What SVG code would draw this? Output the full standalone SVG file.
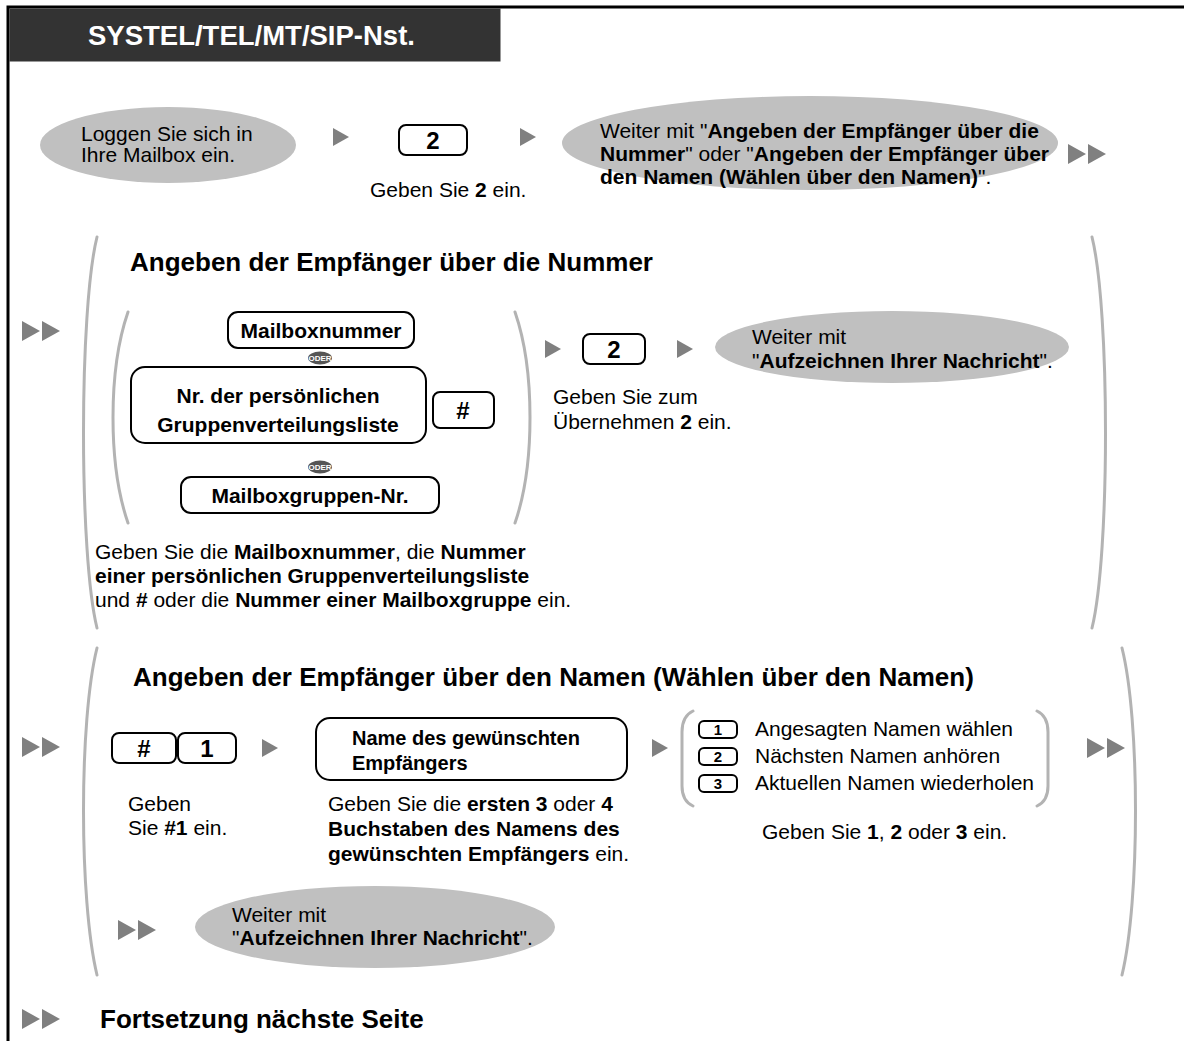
<svg xmlns="http://www.w3.org/2000/svg" width="1184" height="1041" viewBox="0 0 1184 1041">
<defs>
<style>
text{font-family:"Liberation Sans",Arial,sans-serif;fill:#000}
.b{font-weight:bold}
.t{font-size:21px}
.title{font-size:26px;font-weight:bold}
.ell{fill:#c0c0c0}
.key{fill:#fff;stroke:#000;stroke-width:2}
.box{fill:#fff;stroke:#000;stroke-width:2}
.br{fill:none;stroke:#b3b3b3;stroke-width:3;stroke-linecap:round}
.ar{fill:#808080}
.kt{font-size:24px;font-weight:bold;text-anchor:middle}
.bt{font-size:21px;font-weight:bold;text-anchor:middle}
.oder{fill:#555}
.ot{font-size:8px;font-weight:bold;fill:#fff;text-anchor:middle}
</style>
<path id="tri" d="M0,-9 L16,0 L0,9 Z"/>
<g id="dbl"><path d="M0,-10 L18,0 L0,10 Z"/><path d="M20,-10 L38,0 L20,10 Z"/></g>
</defs>
<rect width="1184" height="1041" fill="#fff"/>
<path d="M1184,7 H8 V1041" fill="none" stroke="#000" stroke-width="3"/>
<g id="header">
<rect x="9.5" y="8.5" width="491" height="53" fill="#333"/>
<text x="88" y="45" style="font-size:27.5px;font-weight:bold;fill:#fff">SYSTEL/TEL/MT/SIP-Nst.</text>
</g>
<g id="brackets">
<path class="br" d="M97,237 C79,310 79,555 97,628"/>
<path class="br" d="M1092,237 C1110,310 1110,555 1092,628"/>
<path class="br" d="M128,312 C108,370 108,465 128,523"/>
<path class="br" d="M515,312 C535,370 535,465 515,523"/>
<path class="br" d="M97,648 C79,720 79,900 97,975"/>
<path class="br" d="M1122,648 C1140,720 1140,900 1122,975"/>
<path class="br" d="M693,711 Q682,716 682,732 V786 Q682,801 693,806"/>
<path class="br" d="M1037,711 Q1048,716 1048,732 V786 Q1048,801 1037,806"/>
</g>
<g id="connectors" class="ar">
<use href="#tri" x="333" y="137"/>
<use href="#tri" x="520" y="137"/>
<use href="#dbl" x="1068" y="154"/>
<use href="#dbl" x="22" y="331"/>
<use href="#tri" x="545" y="349"/>
<use href="#tri" x="677" y="349"/>
<use href="#dbl" x="22" y="747"/>
<use href="#tri" x="262" y="748"/>
<use href="#tri" x="652" y="748"/>
<use href="#dbl" x="1087" y="748"/>
<use href="#dbl" x="118" y="930"/>
<use href="#dbl" x="22" y="1019"/>
</g>
<g id="login">
<ellipse class="ell" cx="168" cy="145" rx="128" ry="38"/>
<text class="t" x="81" y="141">Loggen Sie sich in</text>
<text class="t" x="81" y="162">Ihre Mailbox ein.</text>
</g>
<g id="key2a">
<rect class="key" x="399" y="125" width="68" height="30" rx="7"/>
<text class="kt" x="433" y="149">2</text>
<text class="t" x="370" y="197">Geben Sie <tspan class="b">2</tspan> ein.</text>
</g>
<g id="goto1">
<ellipse class="ell" cx="810" cy="143" rx="248" ry="47"/>
<text class="t" x="600" y="138">Weiter mit "<tspan class="b">Angeben der Empfänger über die</tspan></text>
<text class="t" x="600" y="161"><tspan class="b">Nummer</tspan>" oder "<tspan class="b">Angeben der Empfänger über</tspan></text>
<text class="t" x="600" y="184"><tspan class="b">den Namen (Wählen über den Namen)</tspan>".</text>
</g>
<g id="sec1">
<text class="title" x="130" y="271">Angeben der Empfänger über die Nummer</text>
</g>
<g id="mailboxnr">
<rect class="box" x="228" y="312" width="186" height="36" rx="10"/>
<text class="bt" x="321" y="338">Mailboxnummer</text>
</g>
<g id="oder1">
<ellipse class="oder" cx="320" cy="358" rx="12" ry="6.5"/>
<text class="ot" x="320" y="361">ODER</text>
</g>
<g id="pgl">
<rect class="box" x="131" y="367" width="295" height="76" rx="14"/>
<text class="bt" x="278" y="403">Nr. der persönlichen</text>
<text class="bt" x="278" y="432">Gruppenverteilungsliste</text>
</g>
<g id="hash1">
<rect class="key" x="433" y="392" width="61" height="36" rx="7"/>
<text class="kt" x="463" y="419">#</text>
</g>
<g id="oder2">
<ellipse class="oder" cx="320" cy="467" rx="12" ry="6.5"/>
<text class="ot" x="320" y="470">ODER</text>
</g>
<g id="mbgroup">
<rect class="box" x="181" y="477" width="258" height="36" rx="10"/>
<text class="bt" x="310" y="503">Mailboxgruppen-Nr.</text>
</g>
<g id="key2b">
<rect class="key" x="583" y="334" width="62" height="30" rx="7"/>
<text class="kt" x="614" y="358">2</text>
<text class="t" x="553" y="404">Geben Sie zum</text>
<text class="t" x="553" y="429">Übernehmen <tspan class="b">2</tspan> ein.</text>
</g>
<g id="goto2">
<ellipse class="ell" cx="892" cy="347" rx="177" ry="36"/>
<text class="t" x="752" y="344">Weiter mit</text>
<text class="t" x="752" y="368">"<tspan class="b">Aufzeichnen Ihrer Nachricht</tspan>".</text>
</g>
<g id="note1">
<text class="t" x="95" y="559">Geben Sie die <tspan class="b">Mailboxnummer</tspan>, die <tspan class="b">Nummer</tspan></text>
<text class="t b" x="95" y="583">einer persönlichen Gruppenverteilungsliste</text>
<text class="t" x="95" y="607">und <tspan class="b">#</tspan> oder die <tspan class="b">Nummer einer Mailboxgruppe</tspan> ein.</text>
</g>
<g id="sec2">
<text class="title" x="133" y="686">Angeben der Empfänger über den Namen (Wählen über den Namen)</text>
</g>
<g id="key_hash1">
<rect class="key" x="112" y="733" width="64" height="30" rx="7"/>
<text class="kt" x="144" y="757">#</text>
<rect class="key" x="178" y="733" width="58" height="30" rx="7"/>
<text class="kt" x="207" y="757">1</text>
<text class="t" x="128" y="811">Geben</text>
<text class="t" x="128" y="835">Sie <tspan class="b">#1</tspan> ein.</text>
</g>
<g id="namebox">
<rect class="box" x="316" y="718" width="311" height="62" rx="14"/>
<text class="b" style="font-size:20px" x="352" y="745">Name des gewünschten</text>
<text class="b" style="font-size:20px" x="352" y="770">Empfängers</text>
<text class="t" x="328" y="811">Geben Sie die <tspan class="b">ersten 3</tspan> oder <tspan class="b">4</tspan></text>
<text class="t b" x="328" y="836">Buchstaben des Namens des</text>
<text class="t" x="328" y="861"><tspan class="b">gewünschten Empfängers</tspan> ein.</text>
</g>
<g id="options">
<rect class="key" x="699" y="721" width="38" height="17" rx="5"/>
<text x="718" y="735" style="font-size:15px;font-weight:bold;text-anchor:middle">1</text>
<text class="t" x="755" y="736">Angesagten Namen wählen</text>
<rect class="key" x="699" y="748" width="38" height="17" rx="5"/>
<text x="718" y="762" style="font-size:15px;font-weight:bold;text-anchor:middle">2</text>
<text class="t" x="755" y="763">Nächsten Namen anhören</text>
<rect class="key" x="699" y="775" width="38" height="17" rx="5"/>
<text x="718" y="789" style="font-size:15px;font-weight:bold;text-anchor:middle">3</text>
<text class="t" x="755" y="790">Aktuellen Namen wiederholen</text>
<text class="t" x="762" y="839">Geben Sie <tspan class="b">1</tspan>, <tspan class="b">2</tspan> oder <tspan class="b">3</tspan> ein.</text>
</g>
<g id="goto3">
<ellipse class="ell" cx="375" cy="927" rx="180" ry="41"/>
<text class="t" x="232" y="922">Weiter mit</text>
<text class="t" x="232" y="945">"<tspan class="b">Aufzeichnen Ihrer Nachricht</tspan>".</text>
</g>
<g id="footer">
<text class="title" x="100" y="1028">Fortsetzung nächste Seite</text>
</g>
</svg>
